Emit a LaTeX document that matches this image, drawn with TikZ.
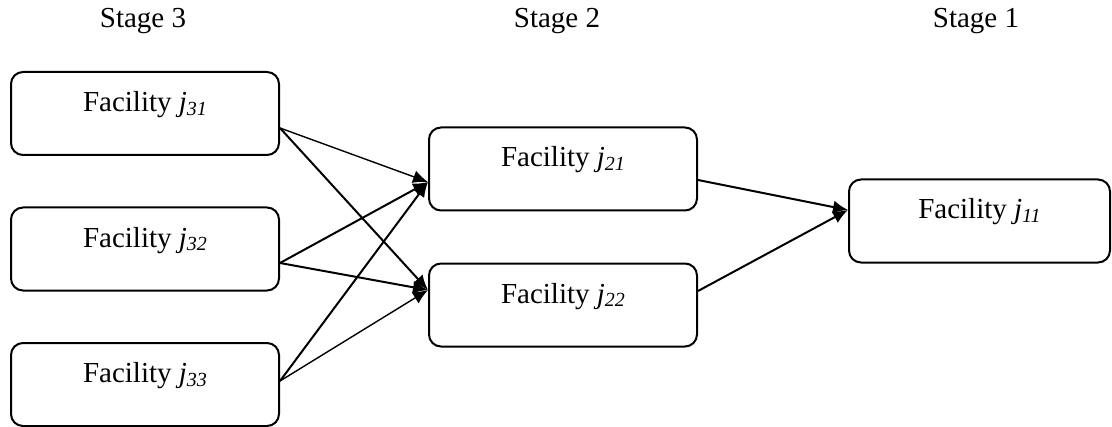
\documentclass[tikz,border=0pt]{standalone}
\usepackage{fontspec}
\setmainfont{Liberation Serif}
\usetikzlibrary{arrows.meta,calc}
\newcommand{\fac}[1]{Facility \textit{j}\raisebox{-1.8pt}{\fontsize{10}{11}\selectfont\textit{#1}}}
\begin{document}
\begin{tikzpicture}[x={(0.5pt,0pt)},y={(0pt,-0.5pt)},
  every node/.style={font=\fontsize{14.5}{17}\selectfont},
  facbox/.style={draw,line width=1pt,rounded corners=6pt,minimum width=134pt,minimum height=41.5pt,inner sep=0pt},
  stagelbl/.style={anchor=base,inner sep=0pt},
  boxtxt/.style={anchor=base,inner sep=0pt},
  flow/.style={line width=1pt,-{Latex[length=7.5pt,width=6.5pt]}},
  thinflow/.style={line width=0.7pt,-{Latex[length=7.5pt,width=6.5pt]}}]
\useasboundingbox (0,0) rectangle (1112,427);
% stage labels
\node[stagelbl] (s3) at (143,28) {Stage 3};
\node[stagelbl] (s2) at (557,28) {Stage 2};
\node[stagelbl] (s1) at (976,28) {Stage 1};
% boxes
\node[facbox] (j31) at (145,113.5) {};
\node[facbox] (j32) at (145,249) {};
\node[facbox] (j33) at (145,384.5) {};
\node[facbox] (j21) at (563,169) {};
\node[facbox] (j22) at (563,305) {};
\node[facbox,minimum width=130.5pt] (j11) at (979.5,221) {};
% texts
\node[boxtxt] (t31) at ($(j31.north)+(0,40.5)$) {\fac{31}};
\node[boxtxt] (t32) at ($(j32.north)+(0,40.5)$) {\fac{32}};
\node[boxtxt] (t33) at ($(j33.north)+(0,40.5)$) {\fac{33}};
\node[boxtxt] (t21) at ($(j21.north)+(0,40.5)$) {\fac{21}};
\node[boxtxt] (t22) at ($(j22.north)+(0,40.5)$) {\fac{22}};
\node[boxtxt] (t11) at ($(j11.north)+(0,40.5)$) {\fac{11}};
% connector ends
\coordinate (o31) at ($(j31.east)+(0,14.5)$);
\coordinate (o32) at ($(j32.east)+(0,14)$);
\coordinate (o33) at ($(j33.east)+(0,-3.5)$);
\coordinate (i21) at ($(j21.west)+(0,13)$);
\coordinate (i22) at ($(j22.west)+(0,-15)$);
\coordinate (o21) at ($(j21.east)+(0,11)$);
\coordinate (o22) at ($(j22.east)+(0,-14)$);
\coordinate (i11) at ($(j11.west)+(0,-11)$);
% connectors
\draw[thinflow] (o31) -- (i21);
\draw[flow] (o31) -- (i22);
\draw[flow] (o32) -- (i21);
\draw[flow] (o32) -- (i22);
\draw[flow] (o33) -- (i21);
\draw[thinflow] (o33) -- (i22);
\draw[flow] (o21) -- (i11);
\draw[flow] (o22) -- (i11);
\end{tikzpicture}
\end{document}
